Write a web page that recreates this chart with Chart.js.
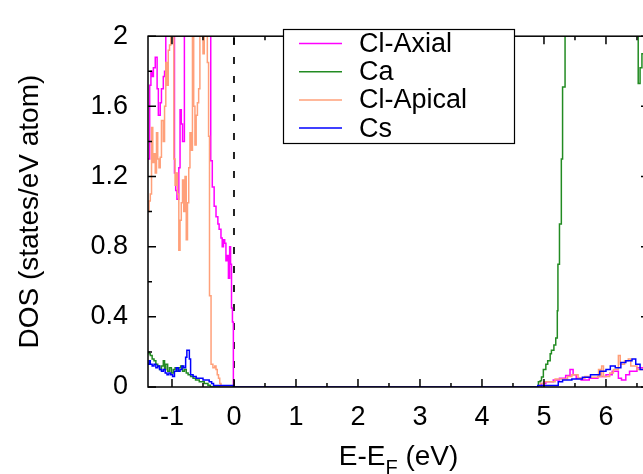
<!DOCTYPE html>
<html>
<head>
<meta charset="utf-8">
<script src="https://cdn.jsdelivr.net/npm/chart.js@4.4.1/dist/chart.umd.min.js"></script>
<style>
  html, body { margin: 0; padding: 0; overflow: hidden; background: #fff; }
  #wrap { width: 650px; height: 474px; }
</style>
</head>
<body>
<div id="wrap"><canvas id="dosChart" width="650" height="474"></canvas></div>
<script>
// DOS data (energy E-EF in eV, step starts -> states/eV atom)
const axialE = [-1.39, -1.36, -1.34, -1.32, -1.30, -1.27, -1.24, -1.22, -1.19, -1.17,
  -1.14, -1.12, -1.10, -0.96, -0.94, -0.92, -0.89, -0.87, -0.85, -0.83,
  -0.80, -0.375, -0.35, -0.32, -0.29, -0.26, -0.24, -0.21, -0.19, -0.17,
  -0.15, -0.13, -0.11, -0.09, -0.07, -0.055, -0.04, -0.025, -0.01,
  4.96, 5.03, 5.15, 5.25, 5.35, 5.42, 5.47, 5.52, 5.60, 5.73,
  5.87, 6.00, 6.10, 6.20, 6.25, 6.32, 6.38, 6.50, 6.70];
const axialDos = [1.30, 1.72, 1.80, 1.77, 1.82, 1.88, 1.70, 1.55, 1.62, 1.70,
  1.77, 1.80, 2.50, 1.22, 1.12, 1.07, 1.25, 1.58, 1.50, 1.40,
  2.50, 1.29, 1.14, 1.03, 0.97, 0.93, 0.90, 0.85, 0.80, 0.84,
  0.82, 0.72, 0.75, 0.62, 0.80, 0.70, 0.45, 0.37, 0,
  0.02, 0.03, 0.04, 0.05, 0.065, 0.10, 0.07, 0.05, 0.04, 0.05,
  0.06, 0.07, 0.09, 0.05, 0.04, 0.07, 0.09, 0.11, 0.11];

const caE = [-1.39, -1.37, -1.35, -1.32, -1.29, -1.26, -1.23, -1.20, -1.17, -1.14,
  -1.12, -1.10, -1.07, -1.04, -1.01, -0.98, -0.95, -0.92, -0.89, -0.86,
  -0.83, -0.80, -0.77, -0.74, -0.70, -0.66, -0.62, -0.56, -0.48, -0.42,
  -0.38,
  4.91, 4.94, 4.96, 4.99, 5.03, 5.06, 5.10, 5.12, 5.16, 5.19,
  5.215, 5.225, 5.25, 5.28, 5.30, 5.34, 6.52, 6.55, 6.58, 6.70];
const caDos = [0.20, 0.19, 0.18, 0.16, 0.15, 0.13, 0.12, 0.10, 0.12, 0.15,
  0.10, 0.13, 0.09, 0.11, 0.08, 0.10, 0.11, 0.09, 0.11, 0.12,
  0.09, 0.10, 0.08, 0.07, 0.06, 0.05, 0.04, 0.03, 0.02, 0.01,
  0,
  0.03, 0.035, 0.057, 0.10, 0.13, 0.15, 0.19, 0.21, 0.24, 0.28,
  0.435, 0.70, 0.93, 1.30, 1.71, 2.50, 1.73, 1.82, 1.90, 1.90];

const apicalE = [-1.39, -1.37, -1.35, -1.33, -1.31, -1.29, -1.27, -1.25, -1.23, -1.21,
  -1.19, -1.17, -1.14, -1.12, -1.10, -1.08, -1.06, -1.04, -1.02, -0.97,
  -0.95, -0.93, -0.91, -0.89, -0.87, -0.85, -0.83, -0.81, -0.79, -0.77,
  -0.75, -0.73, -0.71, -0.69, -0.67, -0.65, -0.63, -0.61, -0.59, -0.57,
  -0.55, -0.50, -0.48, -0.43, -0.41, -0.395, -0.37, -0.34, -0.31, -0.29,
  -0.27, -0.25, -0.23, -0.21,
  4.94, 5.00, 5.18, 5.38, 5.45, 5.55, 5.66, 5.74, 5.88, 5.91,
  5.93, 5.96, 6.06, 6.12, 6.20, 6.23, 6.30, 6.36, 6.40, 6.50, 6.70];
const apicalDos = [1.00, 1.06, 1.10, 1.48, 1.28, 1.33, 1.22, 1.45, 1.30, 1.25,
  1.31, 1.52, 1.40, 1.60, 1.85, 1.72, 1.92, 1.95, 2.50, 1.30,
  1.15, 1.22, 1.10, 0.78, 0.95, 1.05, 1.18, 1.00, 1.20, 0.84,
  1.05, 1.25, 1.45, 1.35, 2.50, 1.60, 1.38, 1.55, 1.62, 1.70,
  2.50, 1.90, 2.50, 1.85, 1.43, 0.52, 0.13, 0.11, 0.12, 0.10,
  0.07, 0.05, 0.02, 0,
  0.02, 0.03, 0.045, 0.06, 0.07, 0.05, 0.06, 0.055, 0.10, 0.06,
  0.12, 0.06, 0.08, 0.10, 0.18, 0.13, 0.15, 0.16, 0.12, 0.10, 0.10];

const csE = [-1.39, -1.37, -1.35, -1.32, -1.29, -1.26, -1.23, -1.20, -1.17, -1.14,
  -1.11, -1.08, -1.05, -1.02, -0.99, -0.96, -0.93, -0.90, -0.87, -0.84,
  -0.81, -0.78, -0.76, -0.72, -0.70, -0.66, -0.61, -0.50, -0.40, -0.36,
  -0.33, -0.01,
  4.90, 5.23, 5.30, 5.45, 5.62, 5.75, 5.90, 6.00, 6.07, 6.15,
  6.24, 6.32, 6.42, 6.48, 6.55, 6.70];
const csDos = [0.13, 0.15, 0.13, 0.12, 0.13, 0.11, 0.12, 0.10, 0.09, 0.10,
  0.08, 0.07, 0.08, 0.07, 0.06, 0.09, 0.11, 0.09, 0.10, 0.12,
  0.11, 0.17, 0.21, 0.16, 0.07, 0.06, 0.05, 0.04, 0.03, 0.02,
  0.008, 0,
  0.008, 0.03, 0.04, 0.045, 0.055, 0.07, 0.09, 0.10, 0.12, 0.11,
  0.14, 0.15, 0.16, 0.13, 0.10, 0.10];

const xTicks = [-1, 0, 1, 2, 3, 4, 5, 6];
const xMinor = [-0.5, 0.5, 1.5, 2.5, 3.5, 4.5, 5.5, 6.5];
const yTicks = [0, 0.4, 0.8, 1.2, 1.6, 2];
const yMinor = [0.2, 0.6, 1.0, 1.4, 1.8];
const yTickLabels = ['0', '0.4', '0.8', '1.2', '1.6', '2'];

const FONT = '"Liberation Sans", Arial, sans-serif';

function pts(xs, ys) {
  return xs.map((x, i) => ({ x: x, y: ys[i] }));
}

// gnuplot style frame, inward ticks, dashed Fermi line, legend box, x title
const framePlugin = {
  id: 'frame',
  beforeDatasetsDraw(chart) {
    const { ctx, chartArea: a, scales: { x } } = chart;
    const x0 = x.getPixelForValue(0);
    ctx.save();
    ctx.strokeStyle = '#222';
    ctx.lineWidth = 2;
    ctx.setLineDash([7, 12]);
    ctx.beginPath();
    ctx.moveTo(x0, a.bottom);
    ctx.lineTo(x0, a.top);
    ctx.stroke();
    ctx.restore();
  },
  afterDraw(chart) {
    const { ctx, chartArea: a, scales: { x, y } } = chart;
    ctx.save();
    ctx.strokeStyle = '#000';
    ctx.lineWidth = 1.5;
    ctx.strokeRect(a.left, a.top, a.right - a.left, a.bottom - a.top);
    ctx.beginPath();
    const tx = (v, len) => {
      const p = x.getPixelForValue(v);
      ctx.moveTo(p, a.bottom); ctx.lineTo(p, a.bottom - len);
      ctx.moveTo(p, a.top); ctx.lineTo(p, a.top + len);
    };
    const ty = (v, len) => {
      const p = y.getPixelForValue(v);
      ctx.moveTo(a.left, p); ctx.lineTo(a.left + len, p);
      ctx.moveTo(a.right, p); ctx.lineTo(a.right - len, p);
    };
    xTicks.forEach(v => tx(v, 8));
    xMinor.forEach(v => tx(v, 4));
    yTicks.forEach(v => ty(v, 8));
    yMinor.forEach(v => ty(v, 4));
    ctx.stroke();

    // legend
    const lx = 283.5, ly = 29.5, lw = 231, lh = 114;
    ctx.fillStyle = '#fff';
    ctx.fillRect(lx, ly, lw, lh);
    ctx.lineWidth = 1.2;
    ctx.strokeRect(lx, ly, lw, lh);
    ctx.font = '27px ' + FONT;
    ctx.textBaseline = 'middle';
    ctx.textAlign = 'left';
    chart.data.datasets.forEach((ds, i) => {
      const yy = 43.5 + i * 28.2;
      ctx.strokeStyle = ds.borderColor;
      ctx.lineWidth = 1.5;
      ctx.beginPath();
      ctx.moveTo(299, yy);
      ctx.lineTo(342, yy);
      ctx.stroke();
      ctx.fillStyle = '#000';
      ctx.fillText(ds.label, 359, yy + 1);
    });

    // x title with subscript
    const big = '28px ' + FONT, small = '20px ' + FONT;
    ctx.font = big;
    const w1 = ctx.measureText('E-E').width;
    const w3 = ctx.measureText(' (eV)').width;
    ctx.font = small;
    const w2 = ctx.measureText('F').width;
    let px = (a.left + a.right) / 2 - (w1 + w2 + w3) / 2;
    ctx.fillStyle = '#000';
    ctx.textBaseline = 'alphabetic';
    ctx.font = big; ctx.fillText('E-E', px, 465); px += w1;
    ctx.font = small; ctx.fillText('F', px, 474); px += w2;
    ctx.font = big; ctx.fillText(' (eV)', px, 465);
    ctx.restore();
  }
};

const ctx = document.getElementById('dosChart').getContext('2d');
const common = { stepped: true, pointRadius: 0, borderWidth: 1.5, fill: false, clip: 0 };

const dosChart = new Chart(ctx, {
  type: 'line',
  data: {
    datasets: [
      { label: 'Cl-Axial', data: pts(axialE, axialDos), borderColor: '#ff00ff', order: 4, ...common },
      { label: 'Ca', data: pts(caE, caDos), borderColor: '#228b22', order: 3, ...common },
      { label: 'Cl-Apical', data: pts(apicalE, apicalDos), borderColor: '#ffa07a', order: 2, ...common },
      { label: 'Cs', data: pts(csE, csDos), borderColor: '#0000ff', order: 1, ...common }
    ]
  },
  options: {
    responsive: false,
    animation: false,
    layout: { padding: { top: 24, right: 1, left: 0, bottom: 0 } },
    plugins: { legend: { display: false }, tooltip: { enabled: false } },
    scales: {
      x: {
        type: 'linear',
        min: -1.387,
        max: 6.694,
        grid: { display: false, drawTicks: false, tickLength: 0 },
        border: { display: false },
        afterBuildTicks: s => { s.ticks = xTicks.map(v => ({ value: v })); },
        afterFit: s => { s.height = 87; },
        ticks: {
          color: '#000',
          font: { family: FONT, size: 27 },
          padding: 14,
          maxRotation: 0,
          autoSkip: false,
          callback: v => String(v)
        }
      },
      y: {
        min: 0,
        max: 2,
        grid: { display: false, drawTicks: false, tickLength: 0 },
        border: { display: false },
        afterBuildTicks: s => { s.ticks = yTicks.map(v => ({ value: v })); },
        afterFit: s => { s.width = 148; },
        ticks: {
          color: '#000',
          font: { family: FONT, size: 27 },
          padding: 20,
          autoSkip: false,
          callback: (v) => yTickLabels[yTicks.indexOf(v)]
        },
        title: {
          display: true,
          text: 'DOS (states/eV atom)',
          color: '#000',
          font: { family: FONT, size: 28 },
          padding: { top: 13, bottom: 0 }
        }
      }
    }
  },
  plugins: [framePlugin]
});
</script>
</body>
</html>
